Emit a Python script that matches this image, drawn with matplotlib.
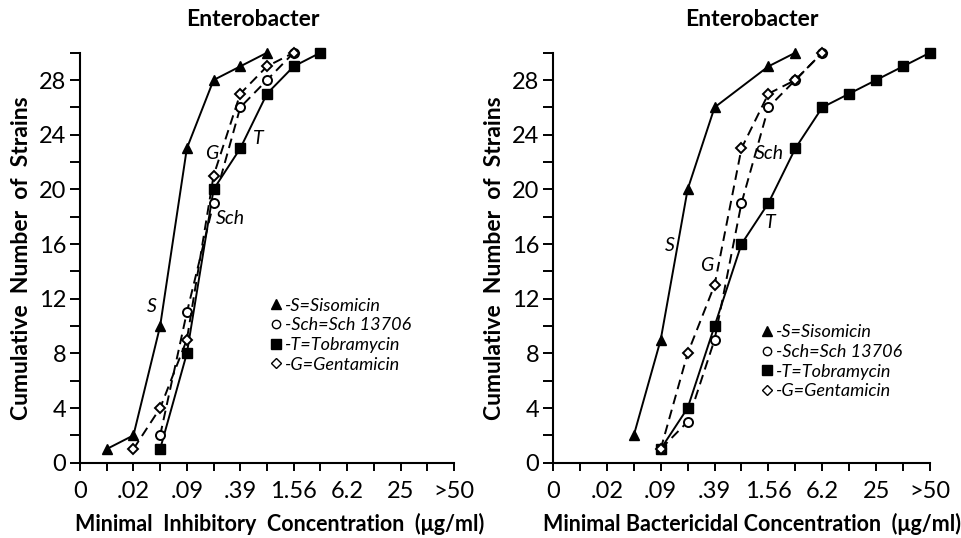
import matplotlib
matplotlib.use("Agg")
import matplotlib.pyplot as plt
from matplotlib.lines import Line2D

plt.rcParams['font.family'] = ['Lato', 'DejaVu Sans']

# concentration steps (two-fold dilutions), labels on every second step
tick_labels = ['0', '.02', '.09', '.39', '1.56', '6.2', '25', '>50']

# MIC panel: (dilution index, cumulative strains)
mic_s_x = [1, 2, 3, 4, 5, 6, 7]
mic_s_y = [1, 2, 10, 23, 28, 29, 30]
mic_sch_x = [3, 4, 5, 6, 7, 8]
mic_sch_y = [2, 11, 19, 26, 28, 30]
mic_t_x = [3, 4, 5, 6, 7, 8, 9]
mic_t_y = [1, 8, 20, 23, 27, 29, 30]
mic_g_x = [2, 3, 4, 5, 6, 7, 8]
mic_g_y = [1, 4, 9, 21, 27, 29, 30]

# MBC panel
mbc_s_x = [3, 4, 5, 6, 8, 9]
mbc_s_y = [2, 9, 20, 26, 29, 30]
mbc_sch_x = [4, 5, 6, 7, 8, 9, 10]
mbc_sch_y = [1, 3, 9, 19, 26, 28, 30]
mbc_t_x = [4, 5, 6, 7, 8, 9, 10, 11, 12, 13, 14]
mbc_t_y = [1, 4, 10, 16, 19, 23, 26, 27, 28, 29, 30]
mbc_g_x = [4, 5, 6, 7, 8, 9, 10]
mbc_g_y = [1, 8, 13, 23, 27, 28, 30]

W, H = 962, 538
fig = plt.figure(figsize=(W / 100, H / 100), dpi=100)
ax1 = fig.add_axes([80 / W, (H - 462.7) / H, 374 / W, 410 / H])
ax2 = fig.add_axes([553 / W, (H - 462.7) / H, 377 / W, 410 / H])

k = 'black'
dash = (0, (5, 3))


def draw(ax, s, sch, t, g):
    kw = dict(color=k, lw=1.4, clip_on=False)
    ax.plot(s[0], s[1], '-', marker='^', ms=7.5, mfc=k, zorder=4, **kw)
    ax.plot(t[0], t[1], '-', marker='s', ms=7, mfc=k, zorder=4, **kw)
    ax.plot(sch[0], sch[1], ls=dash, marker='o', ms=6.5, mfc='white',
            mew=1.4, zorder=5, **kw)
    ax.plot(g[0], g[1], ls=dash, marker='D', ms=5.5, mfc='white',
            mew=1.4, zorder=5, **kw)


def style(ax, xlabel, xc):
    ax.set_xlim(0, 14)
    ax.set_ylim(0, 30)
    for sp in ['top', 'right']:
        ax.spines[sp].set_visible(False)
    ax.spines['left'].set_bounds(0, 30)
    ax.spines['left'].set_linewidth(1.5)
    ax.spines['bottom'].set_linewidth(1.5)
    ax.set_xticks(range(0, 15, 2))
    ax.set_xticklabels(tick_labels)
    ax.set_xticks(range(1, 15, 2), minor=True)
    ax.set_yticks(range(0, 29, 4))
    ax.set_yticks(range(2, 31, 4), minor=True)
    ax.tick_params(which='both', direction='out', length=6, width=1.4,
                   labelsize=17, pad=7)
    ax.tick_params(axis='y', which='both', length=7, pad=3)
    ax.set_ylabel('Cumulative  Number  of  Strains', fontsize=16.5,
                  fontweight='bold', labelpad=5)
    ax.set_xlabel(xlabel, fontsize=15.5, fontweight='bold')
    ax.xaxis.set_label_coords(xc, -0.122)


draw(ax1, (mic_s_x, mic_s_y), (mic_sch_x, mic_sch_y),
     (mic_t_x, mic_t_y), (mic_g_x, mic_g_y))
draw(ax2, (mbc_s_x, mbc_s_y), (mbc_sch_x, mbc_sch_y),
     (mbc_t_x, mbc_t_y), (mbc_g_x, mbc_g_y))
style(ax1, 'Minimal  Inhibitory  Concentration  (μg/ml)', 0.535)
style(ax2, 'Minimal Bactericidal Concentration  (μg/ml)', 0.528)

fig.text(253 / W, 1 - 20 / H, 'Enterobacter', ha='center', va='center',
         fontsize=16.5, fontweight='bold')
fig.text(752 / W, 1 - 20 / H, 'Enterobacter', ha='center', va='center',
         fontsize=16.5, fontweight='bold')

# curve labels
lab = dict(fontsize=14, style='italic', ha='center', va='center')
ax1.text(2.7, 11.4, 'S', **lab)
ax1.text(4.93, 22.6, 'G', **lab)
ax1.text(6.67, 23.7, 'T', **lab)
ax1.text(5.65, 17.9, 'Sch', **lab)
ax2.text(4.32, 15.9, 'S', **lab)
ax2.text(5.72, 14.4, 'G', **lab)
ax2.text(8.05, 22.6, 'Sch', **lab)
ax2.text(8.06, 17.6, 'T', **lab)

handles = [
    Line2D([], [], ls='', marker='^', ms=7, color=k),
    Line2D([], [], ls='', marker='o', ms=6, color=k, mfc='white'),
    Line2D([], [], ls='', marker='s', ms=6.5, color=k),
    Line2D([], [], ls='', marker='D', ms=5, color=k, mfc='white'),
]
names = ['-S=Sisomicin', '-Sch=Sch 13706', '-T=Tobramycin', '-G=Gentamicin']
for ax, anchor in [(ax1, (0.49, 0.42)), (ax2, (0.535, 0.355))]:
    ax.legend(handles, names, loc='upper left', bbox_to_anchor=anchor,
              frameon=False, handlelength=0.6, handletextpad=0.2,
              labelspacing=0.2, borderaxespad=0,
              prop={'style': 'italic', 'size': 13})

fig.savefig('out.png', dpi=100)
